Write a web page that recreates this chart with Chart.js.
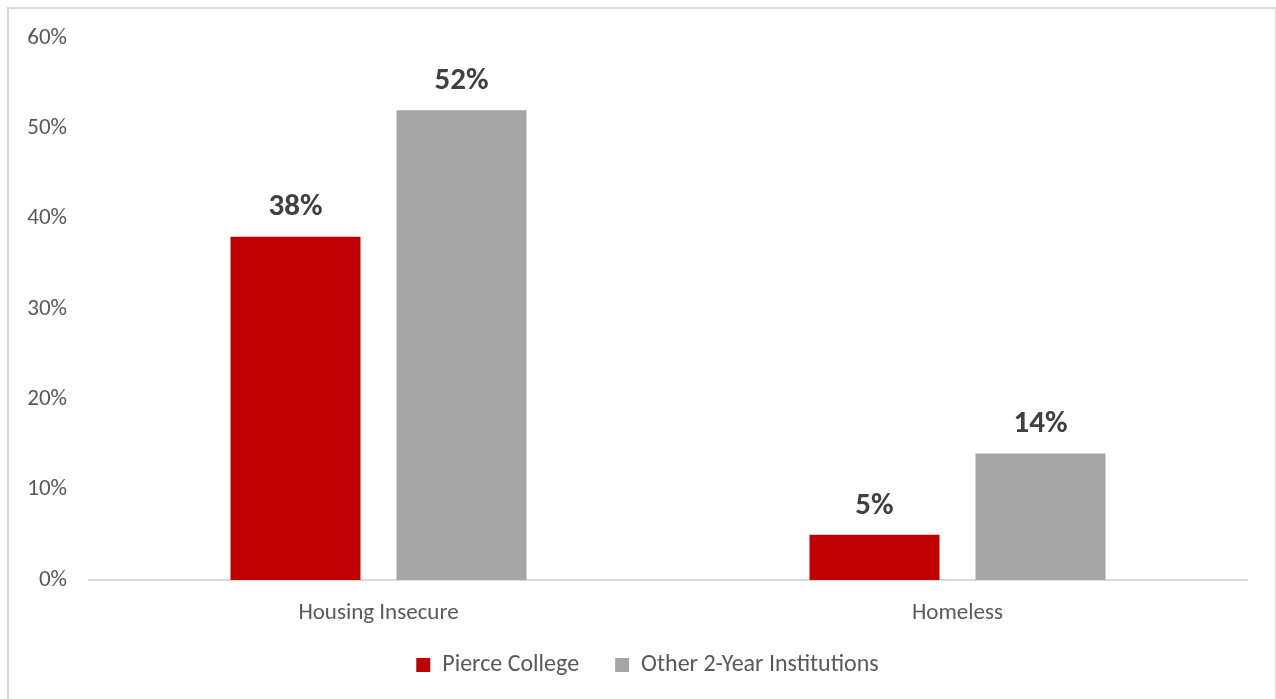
<!DOCTYPE html>
<html lang="en">
<head>
    <meta charset="UTF-8">
    <title>Housing Insecurity and Homelessness</title>
    <script src="https://cdn.jsdelivr.net/npm/chart.js"></script>
    <style>
        html, body {
            margin: 0;
            padding: 0;
            background: #fff;
            overflow: hidden;
        }
        .frame {
            position: absolute;
            left: 7px;
            top: 7px;
            width: 1266px;
            height: 720px;
            border: 2px solid #d9d9d9;
        }
        .chart-container {
            position: absolute;
            left: 0;
            top: 0;
            width: 1276px;
            height: 699px;
        }
    </style>
</head>
<body>
    <div class="frame"></div>
    <div class="chart-container">
        <canvas id="housingChart"></canvas>
    </div>

    <script>
        const categories = ['Housing Insecure', 'Homeless'];
        const pierceCollege = [38, 5];
        const otherTwoYear = [52, 14];
        const yTicks = [0, 10, 20, 30, 40, 50, 60];

        const fontFamily = "Carlito, Lato, 'Open Sans', sans-serif";

        // writes the value above each bar
        const barValueLabels = {
            id: 'barValueLabels',
            afterDatasetsDraw(chart) {
                const ctx = chart.ctx;
                ctx.save();
                ctx.font = 'bold 31px ' + fontFamily;
                ctx.fillStyle = '#404040';
                ctx.textAlign = 'center';
                ctx.textBaseline = 'middle';
                chart.data.datasets.forEach((ds, i) => {
                    chart.getDatasetMeta(i).data.forEach((bar, j) => {
                        ctx.fillText(ds.data[j] + '%', bar.x, bar.y - 29);
                    });
                });
                ctx.restore();
            }
        };

        // let the category labels run past the short x axis box,
        // and centre the legend under the plot area
        const layoutTweaks = {
            id: 'layoutTweaks',
            afterLayout(chart) {
                chart.scales.x.bottom += 40;
                chart.legend.left += 24;
                chart.legend.right += 24;
            }
        };

        const ctx = document.getElementById('housingChart').getContext('2d');
        new Chart(ctx, {
            type: 'bar',
            data: {
                labels: categories,
                datasets: [{
                    label: 'Pierce College',
                    data: pierceCollege,
                    backgroundColor: '#c00000'
                }, {
                    label: 'Other 2-Year Institutions',
                    data: otherTwoYear,
                    backgroundColor: '#a5a5a5'
                }]
            },
            options: {
                responsive: true,
                maintainAspectRatio: false,
                animation: false,
                categoryPercentage: 0.5734,
                barPercentage: 0.783,
                layout: {
                    padding: { top: 38, right: 29, bottom: 12, left: 0 }
                },
                plugins: {
                    legend: {
                        position: 'bottom',
                        labels: {
                            boxWidth: 14,
                            boxHeight: 14,
                            padding: 36,
                            color: '#595959',
                            font: { family: fontFamily, size: 24 }
                        }
                    },
                    tooltip: { enabled: false }
                },
                scales: {
                    x: {
                        grid: { display: false, drawTicks: false },
                        border: { display: true, color: '#d9d9d9', width: 2 },
                        ticks: {
                            padding: 19,
                            color: '#595959',
                            font: { family: fontFamily, size: 23 }
                        },
                        afterFit(scale) { scale.height = 37; }
                    },
                    y: {
                        min: 0,
                        max: 60,
                        afterBuildTicks(scale) {
                            scale.ticks = yTicks.map(v => ({ value: v }));
                        },
                        grid: { display: false, drawTicks: false },
                        border: { display: false },
                        ticks: {
                            padding: 22,
                            color: '#595959',
                            font: { family: fontFamily, size: 23 },
                            callback: v => v + '%'
                        },
                        afterFit(scale) { scale.width = 89; }
                    }
                }
            },
            plugins: [barValueLabels, layoutTweaks]
        });
    </script>
</body>
</html>
